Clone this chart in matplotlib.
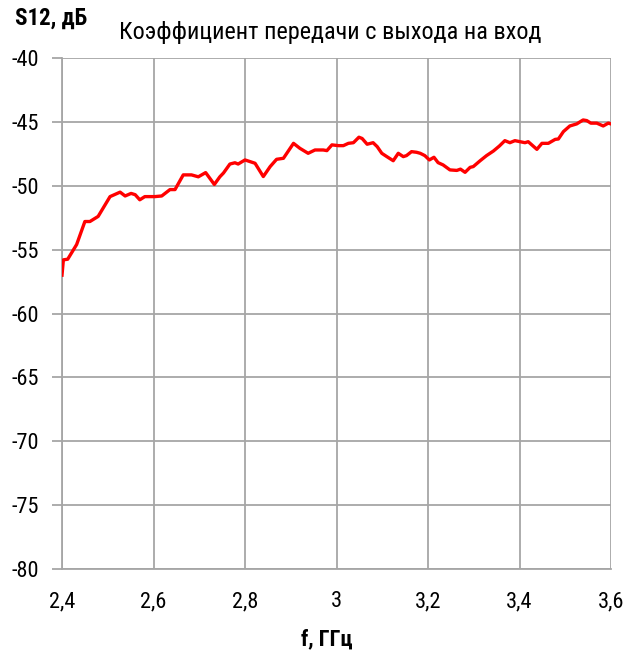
import matplotlib
matplotlib.use("Agg")
import matplotlib.pyplot as plt
from matplotlib.ticker import FuncFormatter

plt.rcParams['font.family'] = ['Roboto Condensed', 'Liberation Sans', 'DejaVu Sans']

freq = [2.400, 2.403, 2.4125, 2.432, 2.450, 2.461, 2.479, 2.505, 2.527, 2.538, 2.551, 2.560,
        2.570, 2.581, 2.603, 2.618, 2.636, 2.647, 2.665, 2.683, 2.698, 2.714, 2.733, 2.745,
        2.753, 2.767, 2.778, 2.785, 2.800, 2.822, 2.840, 2.855, 2.869, 2.884, 2.906, 2.920,
        2.938, 2.953, 2.971, 2.979, 2.990, 3.004, 3.015, 3.026, 3.037, 3.049, 3.056, 3.067,
        3.080, 3.089, 3.099, 3.110, 3.124, 3.135, 3.146, 3.153, 3.164, 3.175, 3.183, 3.193,
        3.203, 3.213, 3.222, 3.233, 3.248, 3.263, 3.271, 3.281, 3.292, 3.299, 3.314, 3.328,
        3.343, 3.356, 3.368, 3.379, 3.390, 3.401, 3.412, 3.419, 3.438, 3.449, 3.463, 3.478,
        3.485, 3.496, 3.510, 3.525, 3.539, 3.547, 3.556, 3.569, 3.583, 3.594, 3.600]
s12 = [-57.0, -55.8, -55.75, -54.6, -52.8, -52.8, -52.4, -50.85, -50.5, -50.8, -50.6, -50.7,
       -51.1, -50.85, -50.85, -50.8, -50.3, -50.3, -49.15, -49.15, -49.3, -48.97, -49.9, -49.3,
       -49.0, -48.3, -48.2, -48.3, -47.98, -48.24, -49.28, -48.5, -47.93, -47.85, -46.68, -47.07,
       -47.46, -47.2, -47.2, -47.25, -46.8, -46.86, -46.86, -46.68, -46.63, -46.2, -46.3, -46.75,
       -46.63, -46.94, -47.46, -47.72, -48.04, -47.46, -47.72, -47.64, -47.33, -47.38, -47.46, -47.64,
       -47.98, -47.77, -48.19, -48.37, -48.76, -48.8, -48.7, -48.95, -48.56, -48.5, -48.04, -47.64,
       -47.28, -46.89, -46.47, -46.63, -46.47, -46.55, -46.63, -46.55, -47.15, -46.68, -46.68, -46.37,
       -46.34, -45.76, -45.32, -45.16, -44.85, -44.9, -45.1, -45.1, -45.32, -45.1, -45.16]

x_ticks = [2.4, 2.6, 2.8, 3.0, 3.2, 3.4, 3.6]
y_ticks = [-80, -75, -70, -65, -60, -55, -50, -45, -40]

fig = plt.figure(figsize=(6.37, 6.54), dpi=100)
ax = fig.add_axes([62/637, 1-569/654, (611-62)/637, (569-58)/654])

grid_c = '#a6a6a6'
ax.plot(freq, s12, color='#ff0000', lw=2.4, zorder=3, solid_joinstyle='round')
ax.set_xlim(2.4, 3.6)
ax.set_ylim(-80, -40)
ax.set_xticks(x_ticks)
ax.set_yticks(y_ticks)
ax.grid(True, color=grid_c, lw=1.3)
for side in ['top', 'right']:
    ax.spines[side].set_visible(False)
for side in ['left', 'bottom']:
    ax.spines[side].set_color(grid_c)
    ax.spines[side].set_linewidth(1.3)
ax.tick_params(axis='y', length=7, width=1.3, color=grid_c, labelsize=16, pad=9.5)
ax.tick_params(axis='x', length=0, labelsize=16, pad=16)

fmt = FuncFormatter(lambda v, p: ('%g' % v).replace('.', ','))
ax.xaxis.set_major_formatter(fmt)
ax.yaxis.set_major_formatter(FuncFormatter(lambda v, p: '%d' % v))

fig.text(330/637, 1-33/654, 'Коэффициент передачи с выхода на вход', ha='center', va='center', fontsize=17.5)
fig.text(15/637, 1-18/654, 'S12, дБ', ha='left', va='center', fontsize=16.5, fontweight='bold')
fig.text(327/637, 1-639/654, 'f, ГГц', ha='center', va='center', fontsize=16, fontweight='bold')

fig.savefig('out.png', dpi=100)
